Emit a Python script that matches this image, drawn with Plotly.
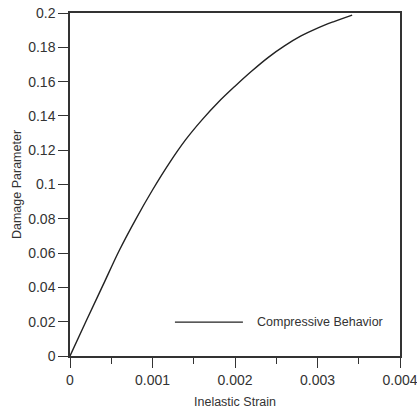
import plotly.graph_objects as go

inelastic_strain = [0, 0.0002, 0.0004, 0.0006, 0.0008, 0.001, 0.0012, 0.0014, 0.0016,
                    0.0018, 0.002, 0.0022, 0.0024, 0.0026, 0.0028, 0.003, 0.0032, 0.00342]
damage_parameter = [0, 0.0208, 0.0413, 0.0618, 0.0800, 0.0968, 0.1122, 0.1260, 0.1377,
                    0.1481, 0.1573, 0.1660, 0.1740, 0.1808, 0.1866, 0.1912, 0.1950, 0.1988]
series_name = "Compressive Behavior"

x_ticks = [0, 0.001, 0.002, 0.003, 0.004]
x_ticklabels = ["0", "0.001", "0.002", "0.003", "0.004"]
x_minor_ticks = [0.0005, 0.0015, 0.0025, 0.0035]
y_ticks = [0, 0.02, 0.04, 0.06, 0.08, 0.1, 0.12, 0.14, 0.16, 0.18, 0.2]
y_ticklabels = ["0", "0.02", "0.04", "0.06", "0.08", "0.1", "0.12", "0.14", "0.16", "0.18", "0.2"]

FONT = "Liberation Sans, Arial, sans-serif"
INK = "#333333"

fig = go.Figure()
fig.add_trace(go.Scatter(x=inelastic_strain, y=damage_parameter, mode="lines",
                         line=dict(color="#222222", width=1.4, shape="spline", smoothing=1),
                         name=series_name, showlegend=False))

# legend drawn as line sample + text
fig.add_shape(type="line", xref="paper", yref="paper", x0=0.318, x1=0.524,
              y0=0.099, y1=0.099, line=dict(color="#222222", width=1.3))
fig.add_annotation(xref="paper", yref="paper", x=0.56, y=0.099, xanchor="left", yanchor="middle",
                   text=series_name, showarrow=False, font=dict(family=FONT, size=12.5, color=INK))

fig.update_layout(
    width=417, height=412,
    margin=dict(l=70, r=17, t=13, b=56),
    paper_bgcolor="white", plot_bgcolor="white",
    font=dict(family=FONT, size=12.5, color=INK),
    xaxis=dict(range=[0, 0.004], tickvals=x_ticks, ticktext=x_ticklabels, automargin=False,
               ticklabeloverflow="allow",
               showgrid=False, zeroline=False, showline=True, linecolor=INK, linewidth=1.5,
               mirror=True, ticks="outside", ticklen=10, tickwidth=1.3, tickcolor=INK,
               minor=dict(tickvals=x_minor_ticks, ticks="outside",
                          ticklen=6, tickwidth=1.3, tickcolor=INK),
               tickfont=dict(size=14),
               title=dict(text="Inelastic Strain", standoff=11, font=dict(size=12.5))),
    yaxis=dict(range=[0, 0.2], tickvals=y_ticks, ticktext=y_ticklabels, automargin=False,
               ticklabeloverflow="allow",
               showgrid=False, zeroline=False, showline=True, linecolor=INK, linewidth=1.5,
               mirror=True, ticks="outside", ticklen=10, tickwidth=1.3, tickcolor=INK,
               tickfont=dict(size=14),
               title=dict(text="Damage Parameter", standoff=4, font=dict(size=12.5))),
)

# remove the page's default 8px body margin so the figure fills the window exactly
fig.write_html("out.html", config={"displayModeBar": False},
               post_script="document.body.style.margin='0';")
